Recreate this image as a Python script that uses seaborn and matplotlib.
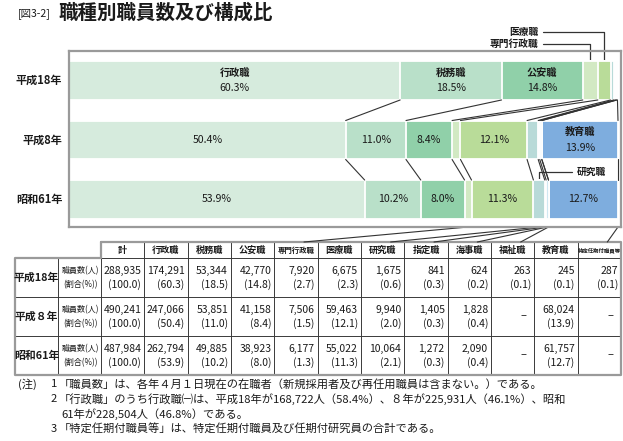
import numpy as np
import pandas as pd
import matplotlib
matplotlib.use('Agg')
import matplotlib.pyplot as plt
import seaborn as sns

# ---------------- data ----------------
years = ['平成18年', '平成8年', '昭和61年']
table_years = ['平成18年', '平成８年', '昭和61年']
categories = ['行政職', '税務職', '公安職', '専門行政職', '医療職', '研究職',
              '指定職', '海事職', '福祉職', '教育職', '特定任期付職員等']
totals = [288935, 490241, 487984]
counts_h18 = [174291, 53344, 42770, 7920, 6675, 1675, 841, 624, 263, 245, 287]
counts_h8 = [247066, 53851, 41158, 7506, 59463, 9940, 1405, 1828, None, 68024, None]
counts_s61 = [262794, 49885, 38923, 6177, 55022, 10064, 1272, 2090, None, 61757, None]
pct_h18 = [60.3, 18.5, 14.8, 2.7, 2.3, 0.6, 0.3, 0.2, 0.1, 0.1, 0.1]
pct_h8 = [50.4, 11.0, 8.4, 1.5, 12.1, 2.0, 0.3, 0.4, None, 13.9, None]
pct_s61 = [53.9, 10.2, 8.0, 1.3, 11.3, 2.1, 0.3, 0.4, None, 12.7, None]
seg_colors = ['#d6ebdd', '#b9e0c9', '#90d0a9', '#d2e9c3', '#b9dc99', '#b8dad8',
              '#e4f1f6', '#cfe7f1', '#a9cdea', '#7eadde', '#b0d2ec']
# which segments carry a name / a percentage label
name_labels = [[0, 1, 2], [9], []]
pct_labels = [[0, 1, 2], [0, 1, 2, 4, 9], [0, 1, 2, 4, 9]]
notes = [
    ('(注)', '1', '「職員数」は、各年４月１日現在の在職者（新規採用者及び再任用職員は含まない。）である。'),
    ('', '2', '「行政職」のうち行政職㈠は、平成18年が168,722人（58.4%）、８年が225,931人（46.1%）、昭和'),
    ('', '', '61年が228,504人（46.8%）である。'),
    ('', '3', '「特定任期付職員等」は、特定任期付職員及び任期付研究員の合計である。'),
]

counts_all = [counts_h18, counts_h8, counts_s61]
pcts_all = [pct_h18, pct_h8, pct_s61]

# ---------------- style ----------------
sns.set_theme(style='white')
FONT = ['Noto Sans CJK JP', 'DejaVu Sans']
plt.rcParams['font.family'] = FONT
TXT = '#1a1a1a'

W, H = 623, 441
fig = plt.figure(figsize=(W / 100, H / 100), dpi=100)
fig.patch.set_facecolor('white')

# overlay axes in pixel coordinates for title, table and notes
ov = fig.add_axes([0, 0, 1, 1])
ov.set_xlim(0, W)
ov.set_ylim(H, 0)
ov.axis('off')

# bar axes
L, R, T, B = 69, 621, 51, 227
ax = fig.add_axes([L / W, (H - B) / H, (R - L) / W, (B - T) / H])
ax.set_zorder(2)
ax.patch.set_alpha(0)

rows = []
for yi, yr in enumerate(years):
    c = np.array([v if v is not None else 0 for v in counts_all[yi]], dtype=float)
    share = c / c.sum() * 100
    cum = np.cumsum(share)
    for ci, cat in enumerate(categories):
        rows.append(dict(year=yr, category=cat, share=share[ci], cum=cum[ci], start=cum[ci] - share[ci]))
df = pd.DataFrame(rows)

BAR_W = 0.655
for ci in range(len(categories) - 1, -1, -1):
    sub = df[df['category'] == categories[ci]]
    sns.barplot(data=sub, x='cum', y='year', order=years, orient='h', color=seg_colors[ci],
                saturation=1, width=BAR_W, edgecolor='white', linewidth=1.3,
                errorbar=None, ax=ax)

spacing = 59.5
top_off = (61 + 100) / 2 - T  # first bar center offset in px
y_top = -top_off / spacing
y_bot = y_top + (B - T) / spacing
ax.set_ylim(y_bot, y_top)
ax.set_xlim(0, 100 * (R - L) / (618 - L))
ax.set_xlabel('')
ax.set_ylabel('')
ax.set_xticks([])
ax.set_yticks([])
for s in ax.spines.values():
    s.set_visible(True)
    s.set_color('#9a9a9a')
    s.set_linewidth(1.6)

# year labels
for yi, yr in enumerate(years):
    ax.text(-0.012, yi, yr, transform=ax.get_yaxis_transform(), ha='right', va='center',
            fontsize=8, fontweight='bold', color=TXT)

# segment labels
for yi, yr in enumerate(years):
    d = df[df['year'] == yr].reset_index(drop=True)
    for ci in pct_labels[yi]:
        xc = d.loc[ci, 'start'] + d.loc[ci, 'share'] / 2
        ptxt = f"{pcts_all[yi][ci]:.1f}%"
        if ci in name_labels[yi]:
            ax.text(xc, yi - 0.13, categories[ci], ha='center', va='center', fontsize=7.3,
                    fontweight='bold', color=TXT)
            ax.text(xc, yi + 0.13, ptxt, ha='center', va='center', fontsize=7.6, color=TXT)
        else:
            ax.text(xc, yi, ptxt, ha='center', va='center', fontsize=7.6, color=TXT)

# connecting lines between bars
LINE = '#333333'
for yi in range(len(years) - 1):
    up = df[df['year'] == years[yi]].reset_index(drop=True)
    lo = df[df['year'] == years[yi + 1]].reset_index(drop=True)
    for ci in range(len(categories) - 1):
        ax.plot([up.loc[ci, 'cum'], lo.loc[ci, 'cum']],
                [yi + BAR_W / 2, yi + 1 - BAR_W / 2], color=LINE, lw=0.8, zorder=5)


def px(yi_data_x, y_data):
    disp = ax.transData.transform((yi_data_x, y_data))
    return ov.transData.inverted().transform(disp)


def seg_center(yi, ci):
    d = df[(df['year'] == years[yi]) & (df['category'] == categories[ci])].iloc[0]
    return d['start'] + d['share'] / 2


# callouts for small segments
for ci, ty in [(4, 32), (3, 44)]:
    sx, sy = px(seg_center(0, ci), 0 - BAR_W / 2)
    ov.plot([543, sx, sx], [ty, ty, sy + 1], color=LINE, lw=0.9, zorder=6)
    ov.text(538, ty, categories[ci], ha='right', va='center', fontsize=7, fontweight='bold', color=TXT)
sx, sy = px(seg_center(2, 5), 2 - BAR_W / 2)
ov.plot([572, sx, sx], [172, 172, sy + 6], color=LINE, lw=0.9, zorder=6)
ov.text(577, 172, categories[5], ha='left', va='center', fontsize=7, fontweight='bold', color=TXT)

# ---------------- title ----------------
ov.text(18, 14, '[図3-2]', ha='left', va='center', fontsize=7.5, color=TXT)
ov.text(59, 13, '職種別職員数及び構成比', ha='left', va='center', fontsize=14,
        fontweight='bold', color=TXT)

# ---------------- table ----------------
tx0, tx1, tx2, txR = 15, 58, 101, 621
hy0, hy1 = 242, 258
row_h = 39
ncol = len(categories) + 1
cw = (txR - tx2) / ncol
col_names = ['計'] + categories
GRAY = '#9a9a9a'
DARK = '#3a3a3a'

# inner lines
for k in range(1, ncol):
    x = tx2 + k * cw
    ov.plot([x, x], [hy0, hy1 + 3 * row_h], color=DARK, lw=0.7)
ov.plot([tx1, tx1], [hy1, hy1 + 3 * row_h], color=DARK, lw=0.7)
ov.plot([tx2, tx2], [hy1, hy1 + 3 * row_h], color=DARK, lw=0.7)
ov.plot([tx2, txR], [hy1, hy1], color=DARK, lw=0.7)
for r in range(1, 3):
    y = hy1 + r * row_h
    ov.plot([tx0, txR], [y, y], color=DARK, lw=0.7)
# outer border
ov.plot([tx2, txR, txR, tx0, tx0, tx2, tx2],
        [hy0, hy0, hy1 + 3 * row_h, hy1 + 3 * row_h, hy1, hy1, hy0], color=GRAY, lw=1.6)

# header
for k, nm in enumerate(col_names):
    xc = tx2 + (k + 0.5) * cw
    fs = 6.6 if len(nm) <= 3 else (5.3 if len(nm) <= 5 else 3.9)
    ov.text(xc, (hy0 + hy1) / 2 + 0.5, nm, ha='center', va='center', fontsize=fs,
            fontweight='bold', color=TXT)

# rows
for r in range(3):
    rc = hy1 + (r + 0.5) * row_h
    ov.text((tx0 + tx1) / 2, rc, table_years[r], ha='center', va='center', fontsize=7.8,
            fontweight='bold', color=TXT)
    ov.text((tx1 + tx2) / 2 + 1, rc - 7, '職員数(人)', ha='center', va='center', fontsize=5.8, color=TXT)
    ov.text((tx1 + tx2) / 2 + 1, rc + 7, '(割合(%))', ha='center', va='center', fontsize=5.8, color=TXT)
    vals = [totals[r]] + counts_all[r]
    pcs = [100.0] + pcts_all[r]
    for k in range(ncol):
        xr = tx2 + (k + 1) * cw - 3
        if vals[k] is None:
            ov.text(xr - 5, rc, '–', ha='right', va='center', fontsize=8, color=TXT)
            continue
        ov.text(xr, rc - 7, f"{vals[k]:,}", ha='right', va='center', fontsize=7.5, color=TXT)
        ov.text(xr, rc + 7, f"({pcs[k]:.1f})", ha='right', va='center', fontsize=7.5, color=TXT)

# lines from the lowest bar's small segments down to their table headers
for ci in [3, 5, 6, 7, 8, 10]:
    sx, sy = px(seg_center(2, ci), 2 + BAR_W / 2)
    hx = tx2 + (ci + 1 + 0.5) * cw + 8
    ov.plot([sx, hx], [B, hy0], color=LINE, lw=0.8)

# ---------------- notes ----------------
ny = [384, 399, 414, 429]
NFS = 8.1
for (a, b, c), y in zip(notes, ny):
    if a:
        ov.text(18, y, a, ha='left', va='center', fontsize=NFS, color=TXT)
    if b:
        ov.text(51, y, b, ha='left', va='center', fontsize=NFS, color=TXT)
        ov.text(59, y, c, ha='left', va='center', fontsize=NFS, color=TXT)
    else:
        ov.text(61, y, c, ha='left', va='center', fontsize=NFS, color=TXT)

fig.savefig('out.png', dpi=100, facecolor='white')
